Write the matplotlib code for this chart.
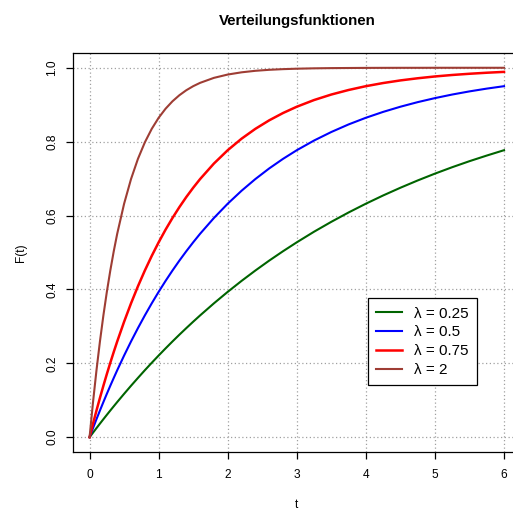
import matplotlib
matplotlib.use("Agg")
import matplotlib.pyplot as plt

plt.rcParams["font.family"] = ["Liberation Sans", "DejaVu Sans"]

t = [0, 0.05, 0.1, 0.15, 0.2, 0.25, 0.3, 0.35, 0.4, 0.5, 0.6, 0.7, 0.8, 0.9, 1.0,
     1.1, 1.2, 1.3, 1.4, 1.5, 1.6, 1.8, 2.0, 2.2, 2.4, 2.6, 2.8, 3.0, 3.25, 3.5,
     3.75, 4.0, 4.25, 4.5, 4.75, 5.0, 5.25, 5.5, 5.75, 6.0]
F_025 = [0, 0.0124, 0.0247, 0.0368, 0.0488, 0.0606, 0.0723, 0.0838, 0.0952, 0.1175,
         0.1393, 0.1605, 0.1813, 0.2015, 0.2212, 0.2404, 0.2592, 0.2775, 0.2953, 0.3127,
         0.3297, 0.3624, 0.3935, 0.4231, 0.4512, 0.4780, 0.5034, 0.5276, 0.5563, 0.5831,
         0.6084, 0.6321, 0.6544, 0.6753, 0.6950, 0.7135, 0.7309, 0.7472, 0.7624, 0.7769]
F_05 = [0, 0.0247, 0.0488, 0.0723, 0.0952, 0.1175, 0.1393, 0.1605, 0.1813, 0.2212,
        0.2592, 0.2953, 0.3297, 0.3624, 0.3935, 0.4231, 0.4512, 0.4780, 0.5034, 0.5276,
        0.5507, 0.5934, 0.6321, 0.6671, 0.6988, 0.7275, 0.7534, 0.7769, 0.8031, 0.8262,
        0.8467, 0.8647, 0.8806, 0.8946, 0.9070, 0.9179, 0.9276, 0.9361, 0.9436, 0.9502]
F_075 = [0, 0.0368, 0.0723, 0.1064, 0.1393, 0.1710, 0.2015, 0.2309, 0.2592, 0.3127,
         0.3624, 0.4085, 0.4512, 0.4908, 0.5276, 0.5618, 0.5934, 0.6228, 0.6501, 0.6753,
         0.6988, 0.7408, 0.7769, 0.8080, 0.8347, 0.8577, 0.8775, 0.8946, 0.9127, 0.9276,
         0.9399, 0.9502, 0.9587, 0.9658, 0.9716, 0.9765, 0.9805, 0.9838, 0.9866, 0.9889]
F_2 = [0, 0.0952, 0.1813, 0.2592, 0.3297, 0.3935, 0.4512, 0.5034, 0.5507, 0.6321,
       0.6988, 0.7534, 0.7981, 0.8347, 0.8647, 0.8892, 0.9093, 0.9257, 0.9392, 0.9502,
       0.9592, 0.9727, 0.9817, 0.9877, 0.9918, 0.9945, 0.9963, 0.9975, 0.9985, 0.9991,
       0.9994, 0.9997, 0.9998, 0.9999, 0.9999, 1.0, 1.0, 1.0, 1.0, 1.0]

series = [
    ("λ = 0.25", F_025, "#006400", 1.5),
    ("λ = 0.5", F_05, "blue", 1.5),
    ("λ = 0.75", F_075, "red", 1.8),
    ("λ = 2", F_2, "#9E3D34", 1.5),
]

fig = plt.figure(figsize=(5.13, 5.12), dpi=100)
W, H = 513, 512
# plot region runs past the right edge like the reference
left, right, top, bottom = 73, 520.6, 53, 452
ax = fig.add_axes([left / W, 1 - bottom / H, (right - left) / W, (bottom - top) / H])

for label, ys, color, lw in series:
    ax.plot(t, ys, color=color, lw=lw, label=label)

ax.set_xlim(-0.24, 6.24)
ax.set_ylim(-0.04, 1.04)
ax.set_xticks(range(7))
ax.set_yticks([0.0, 0.2, 0.4, 0.6, 0.8, 1.0])
ax.set_yticklabels(["0.0", "0.2", "0.4", "0.6", "0.8", "1.0"], rotation=90, va="center")
ax.grid(True, color="#a0a0a0", linestyle=(0, (1, 2)), lw=0.9)
ax.tick_params(length=5, width=0.9, labelsize=8.6)
ax.tick_params(axis="x", pad=7)
ax.tick_params(axis="y", pad=5.5)
for s in ax.spines.values():
    s.set_linewidth(0.9)
ax.spines["right"].set_visible(False)

ax.set_title("Verteilungsfunktionen", fontsize=10.8, fontweight="bold", pad=20)
ax.set_xlabel("t", fontsize=8.6, labelpad=13)
ax.set_ylabel("F(t)", fontsize=8.6, labelpad=14)

leg = ax.legend(loc="lower left", bbox_to_anchor=(0.658, 0.167), fontsize=11,
                fancybox=False, framealpha=1, edgecolor="black", handlelength=1.7,
                handletextpad=0.8, borderaxespad=0, labelspacing=0.31, borderpad=0.55)
leg.get_frame().set_linewidth(0.9)

fig.savefig("out.png", dpi=100)
